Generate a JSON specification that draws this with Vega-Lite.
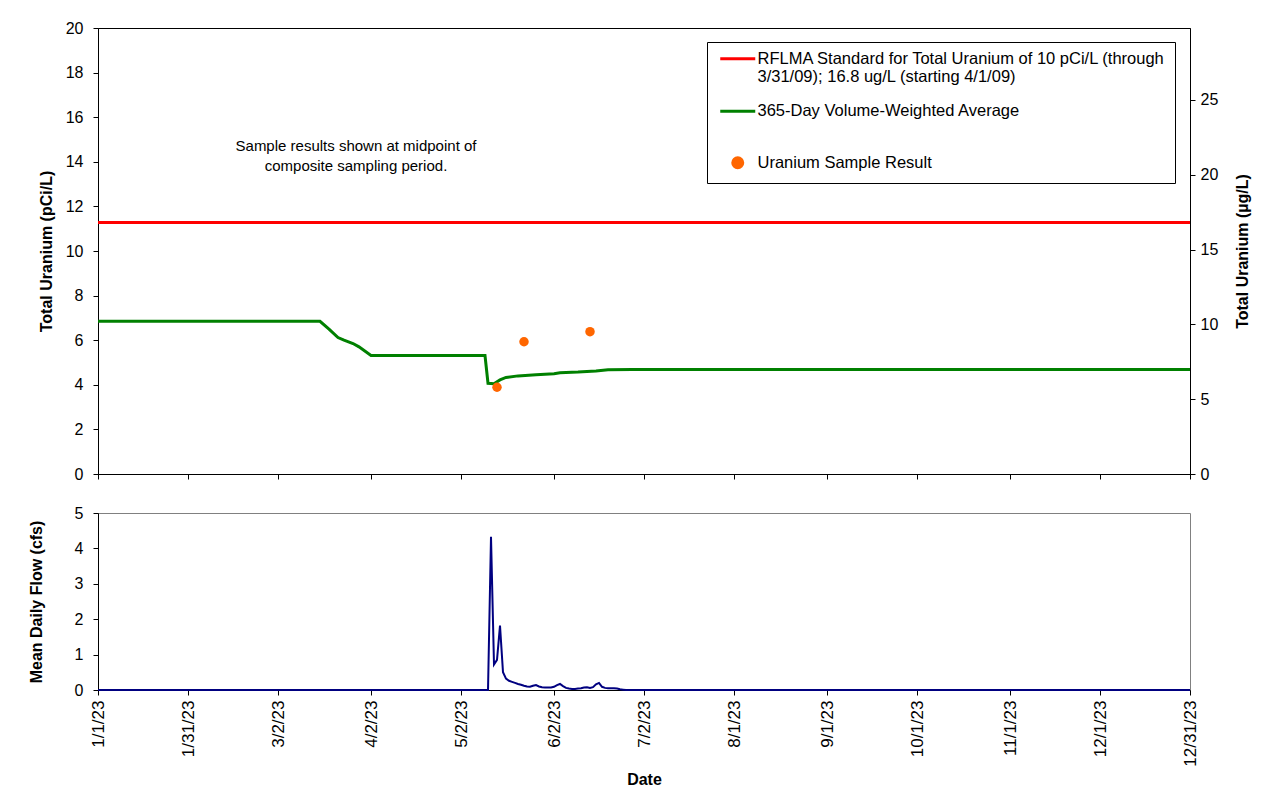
{
  "$schema": "https://vega.github.io/schema/vega-lite/v6.json",
  "padding": {"left": 27, "top": 19, "right": 5, "bottom": 5},
  "background": "white",
  "config": {
    "font": "Liberation Sans",
    "axis": {"labelFont": "Liberation Sans", "titleFont": "Liberation Sans", "labelFontSize": 16, "titleFontSize": 16, "labelColor": "black", "titleColor": "black", "domainColor": "black", "tickColor": "black", "grid": false, "tickSize": 5, "domainWidth": 1, "tickWidth": 1, "minExtent": 0},
    "view": {"stroke": "black"},
    "text": {"font": "Liberation Sans"}
  },
  "datasets": {
    "standard": [
      {"date": "2023-01-01", "ug": 16.8, "series": "RFLMA Standard for Total Uranium of 10 pCi/L (through 3/31/09); 16.8 ug/L (starting 4/1/09)"},
      {"date": "2023-12-31", "ug": 16.8, "series": "RFLMA Standard for Total Uranium of 10 pCi/L (through 3/31/09); 16.8 ug/L (starting 4/1/09)"}
    ],
    "average": [
      {"date": "2023-01-01", "pci": 6.85, "series": "365-Day Volume-Weighted Average"},
      {"date": "2023-03-16", "pci": 6.85, "series": "365-Day Volume-Weighted Average"},
      {"date": "2023-03-19", "pci": 6.5, "series": "365-Day Volume-Weighted Average"},
      {"date": "2023-03-22", "pci": 6.12, "series": "365-Day Volume-Weighted Average"},
      {"date": "2023-03-24", "pci": 6.0, "series": "365-Day Volume-Weighted Average"},
      {"date": "2023-03-27", "pci": 5.85, "series": "365-Day Volume-Weighted Average"},
      {"date": "2023-03-29", "pci": 5.7, "series": "365-Day Volume-Weighted Average"},
      {"date": "2023-04-02", "pci": 5.31, "series": "365-Day Volume-Weighted Average"},
      {"date": "2023-05-10", "pci": 5.31, "series": "365-Day Volume-Weighted Average"},
      {"date": "2023-05-11", "pci": 4.07, "series": "365-Day Volume-Weighted Average"},
      {"date": "2023-05-13", "pci": 4.05, "series": "365-Day Volume-Weighted Average"},
      {"date": "2023-05-15", "pci": 4.22, "series": "365-Day Volume-Weighted Average"},
      {"date": "2023-05-17", "pci": 4.33, "series": "365-Day Volume-Weighted Average"},
      {"date": "2023-05-21", "pci": 4.4, "series": "365-Day Volume-Weighted Average"},
      {"date": "2023-05-27", "pci": 4.45, "series": "365-Day Volume-Weighted Average"},
      {"date": "2023-06-02", "pci": 4.5, "series": "365-Day Volume-Weighted Average"},
      {"date": "2023-06-04", "pci": 4.54, "series": "365-Day Volume-Weighted Average"},
      {"date": "2023-06-10", "pci": 4.57, "series": "365-Day Volume-Weighted Average"},
      {"date": "2023-06-16", "pci": 4.62, "series": "365-Day Volume-Weighted Average"},
      {"date": "2023-06-20", "pci": 4.67, "series": "365-Day Volume-Weighted Average"},
      {"date": "2023-06-28", "pci": 4.69, "series": "365-Day Volume-Weighted Average"},
      {"date": "2023-12-31", "pci": 4.69, "series": "365-Day Volume-Weighted Average"}
    ],
    "samples": [
      {"date": "2023-05-14", "pci": 3.89, "series": "Uranium Sample Result"},
      {"date": "2023-05-23", "pci": 5.93, "series": "Uranium Sample Result"},
      {"date": "2023-06-14", "pci": 6.38, "series": "Uranium Sample Result"}
    ],
    "notes": [
      {"note": "Sample results shown at midpoint of\ncomposite sampling period."}
    ],
    "flow": [
      {"date": "2023-01-01", "cfs": 0},
      {"date": "2023-05-11", "cfs": 0},
      {"date": "2023-05-12", "cfs": 4.33},
      {"date": "2023-05-13", "cfs": 0.72},
      {"date": "2023-05-14", "cfs": 0.85},
      {"date": "2023-05-15", "cfs": 1.82},
      {"date": "2023-05-16", "cfs": 0.5},
      {"date": "2023-05-17", "cfs": 0.32},
      {"date": "2023-05-18", "cfs": 0.26},
      {"date": "2023-05-19", "cfs": 0.23},
      {"date": "2023-05-20", "cfs": 0.2},
      {"date": "2023-05-21", "cfs": 0.17},
      {"date": "2023-05-22", "cfs": 0.15},
      {"date": "2023-05-23", "cfs": 0.12},
      {"date": "2023-05-24", "cfs": 0.1},
      {"date": "2023-05-25", "cfs": 0.09},
      {"date": "2023-05-26", "cfs": 0.12},
      {"date": "2023-05-27", "cfs": 0.14},
      {"date": "2023-05-28", "cfs": 0.1},
      {"date": "2023-05-29", "cfs": 0.08},
      {"date": "2023-05-30", "cfs": 0.07},
      {"date": "2023-05-31", "cfs": 0.07},
      {"date": "2023-06-01", "cfs": 0.07},
      {"date": "2023-06-02", "cfs": 0.09},
      {"date": "2023-06-03", "cfs": 0.14},
      {"date": "2023-06-04", "cfs": 0.17},
      {"date": "2023-06-05", "cfs": 0.11},
      {"date": "2023-06-06", "cfs": 0.06},
      {"date": "2023-06-07", "cfs": 0.04},
      {"date": "2023-06-08", "cfs": 0.03},
      {"date": "2023-06-09", "cfs": 0.03},
      {"date": "2023-06-10", "cfs": 0.04},
      {"date": "2023-06-11", "cfs": 0.05},
      {"date": "2023-06-12", "cfs": 0.07},
      {"date": "2023-06-13", "cfs": 0.08},
      {"date": "2023-06-14", "cfs": 0.06},
      {"date": "2023-06-15", "cfs": 0.08},
      {"date": "2023-06-16", "cfs": 0.16},
      {"date": "2023-06-17", "cfs": 0.2},
      {"date": "2023-06-18", "cfs": 0.09},
      {"date": "2023-06-19", "cfs": 0.06},
      {"date": "2023-06-20", "cfs": 0.05},
      {"date": "2023-06-21", "cfs": 0.05},
      {"date": "2023-06-22", "cfs": 0.05},
      {"date": "2023-06-23", "cfs": 0.04},
      {"date": "2023-06-24", "cfs": 0.02},
      {"date": "2023-06-25", "cfs": 0.01},
      {"date": "2023-06-26", "cfs": 0},
      {"date": "2023-12-31", "cfs": 0}
    ]
  },
  "spacing": 21,
  "vconcat": [
    {
      "width": 1092,
      "height": 446,
      "layer": [
        {
          "data": {"name": "standard"},
          "mark": {"type": "line", "strokeWidth": 3},
          "encoding": {
            "x": {
              "field": "date", "type": "temporal",
              "scale": {"type": "utc", "domain": [{"year": 2023, "month": 1, "date": 1, "utc": true}, {"year": 2023, "month": 12, "date": 31, "utc": true}]},
              "axis": {
                "title": null, "labels": false, "ticks": true,
                "values": [
                  {"year": 2023, "month": 1, "date": 1, "utc": true},
                  {"year": 2023, "month": 1, "date": 31, "utc": true},
                  {"year": 2023, "month": 3, "date": 2, "utc": true},
                  {"year": 2023, "month": 4, "date": 2, "utc": true},
                  {"year": 2023, "month": 5, "date": 2, "utc": true},
                  {"year": 2023, "month": 6, "date": 2, "utc": true},
                  {"year": 2023, "month": 7, "date": 2, "utc": true},
                  {"year": 2023, "month": 8, "date": 1, "utc": true},
                  {"year": 2023, "month": 9, "date": 1, "utc": true},
                  {"year": 2023, "month": 10, "date": 1, "utc": true},
                  {"year": 2023, "month": 11, "date": 1, "utc": true},
                  {"year": 2023, "month": 12, "date": 1, "utc": true},
                  {"year": 2023, "month": 12, "date": 31, "utc": true}
                ]
              }
            },
            "y": {
              "field": "ug", "type": "quantitative",
              "scale": {"domain": [0, 29.8], "nice": false, "zero": true},
              "axis": {"orient": "right", "values": [0, 5, 10, 15, 20, 25], "title": "Total Uranium (µg/L)", "titleFontWeight": "bold", "titleAngle": 270, "titleBaseline": "top", "labelPadding": 5, "titlePadding": 17}
            },
            "color": {
              "field": "series", "type": "nominal",
              "scale": {
                "domain": ["RFLMA Standard for Total Uranium of 10 pCi/L (through 3/31/09); 16.8 ug/L (starting 4/1/09)", "365-Day Volume-Weighted Average", "Uranium Sample Result"],
                "range": ["#FF0000", "#008000", "#FF6600"]
              },
              "legend": {
                "orient": "none", "legendX": 609, "legendY": 14, "title": null, "direction": "vertical",
                "labelFont": "Liberation Sans", "labelFontSize": 16.5, "labelColor": "black", "labelLimit": 600,
                "labelOffset": 11.5, "symbolOffset": 14,
                "symbolType": "stroke", "symbolSize": 100, "symbolStrokeWidth": 3,
                "strokeColor": "black", "fillColor": "white", "padding": 8.5, "rowPadding": 16.5,
                "labelExpr": "indexof(datum.label, 'RFLMA') === 0 ? ['RFLMA Standard for Total Uranium of 10 pCi/L (through\u00a0\u00a0', '3/31/09); 16.8 ug/L (starting 4/1/09)'] : (datum.label === 'Uranium Sample Result' ? ['', datum.label] : datum.label)",
                "encode": {
                  "symbols": {
                    "update": {
                      "shape": {"signal": "datum.value === 'Uranium Sample Result' ? 'circle' : 'M-3.5,0H3.5'"},
                      "size": {"value": 100},
                      "y": {"signal": "datum.value === 'Uranium Sample Result' ? datum.size * 0.5 + 18 : datum.size * 0.5"},
                      "fill": {"signal": "datum.value === 'Uranium Sample Result' ? '#FF6600' : 'transparent'"},
                      "stroke": {"signal": "datum.value === 'Uranium Sample Result' ? 'transparent' : (datum.value === '365-Day Volume-Weighted Average' ? '#008000' : '#FF0000')"},
                      "strokeWidth": {"value": 3},
                      "opacity": {"value": 1}
                    }
                  }
                }
              }
            }
          }
        },
        {
          "layer": [
            {
              "data": {"name": "average"},
              "mark": {"type": "line", "strokeWidth": 3},
              "encoding": {
                "x": {"field": "date", "type": "temporal"},
                "y": {
                  "field": "pci", "type": "quantitative",
                  "scale": {"domain": [0, 20], "nice": false},
                  "axis": {"orient": "left", "values": [0, 2, 4, 6, 8, 10, 12, 14, 16, 18, 20], "title": "Total Uranium (pCi/L)", "titleFontWeight": "bold", "labelPadding": 10, "titlePadding": 11}
                },
                "color": {"field": "series", "type": "nominal"}
              }
            },
            {
              "data": {"name": "samples"},
              "mark": {"type": "circle", "size": 90, "opacity": 1},
              "encoding": {
                "x": {"field": "date", "type": "temporal"},
                "y": {"field": "pci", "type": "quantitative"},
                "color": {"field": "series", "type": "nominal"}
              }
            },
            {
              "data": {"name": "notes"},
              "mark": {"type": "text", "fontSize": 15, "lineHeight": 20, "align": "center", "baseline": "middle", "color": "black", "lineBreak": "\n"},
              "encoding": {
                "x": {"datum": {"year": 2023, "month": 3, "date": 28, "utc": true}, "type": "temporal"},
                "y": {"datum": 14.7, "type": "quantitative"},
                "text": {"field": "note", "type": "nominal"}
              }
            }
          ]
        }
      ],
      "resolve": {"scale": {"y": "independent"}}
    },
    {
      "width": 1092,
      "height": 177,
      "view": {"stroke": "#808080"},
      "data": {"name": "flow"},
      "mark": {"type": "line", "color": "#000080", "strokeWidth": 2},
      "encoding": {
        "x": {
          "field": "date", "type": "temporal",
          "scale": {"type": "utc", "domain": [{"year": 2023, "month": 1, "date": 1, "utc": true}, {"year": 2023, "month": 12, "date": 31, "utc": true}]},
          "axis": {
            "title": "Date", "titleFontWeight": "bold", "format": "%-m/%-d/%y", "labelAngle": 270, "labelFontSize": 17, "labelPadding": 5, "titlePadding": 5,
            "values": [
              {"year": 2023, "month": 1, "date": 1, "utc": true},
              {"year": 2023, "month": 1, "date": 31, "utc": true},
              {"year": 2023, "month": 3, "date": 2, "utc": true},
              {"year": 2023, "month": 4, "date": 2, "utc": true},
              {"year": 2023, "month": 5, "date": 2, "utc": true},
              {"year": 2023, "month": 6, "date": 2, "utc": true},
              {"year": 2023, "month": 7, "date": 2, "utc": true},
              {"year": 2023, "month": 8, "date": 1, "utc": true},
              {"year": 2023, "month": 9, "date": 1, "utc": true},
              {"year": 2023, "month": 10, "date": 1, "utc": true},
              {"year": 2023, "month": 11, "date": 1, "utc": true},
              {"year": 2023, "month": 12, "date": 1, "utc": true},
              {"year": 2023, "month": 12, "date": 31, "utc": true}
            ]
          }
        },
        "y": {
          "field": "cfs", "type": "quantitative",
          "scale": {"domain": [0, 5], "nice": false},
          "axis": {"values": [0, 1, 2, 3, 4, 5], "title": "Mean Daily Flow (cfs)", "titleFontWeight": "bold", "labelPadding": 10, "titlePadding": 30}
        }
      }
    }
  ]
}
